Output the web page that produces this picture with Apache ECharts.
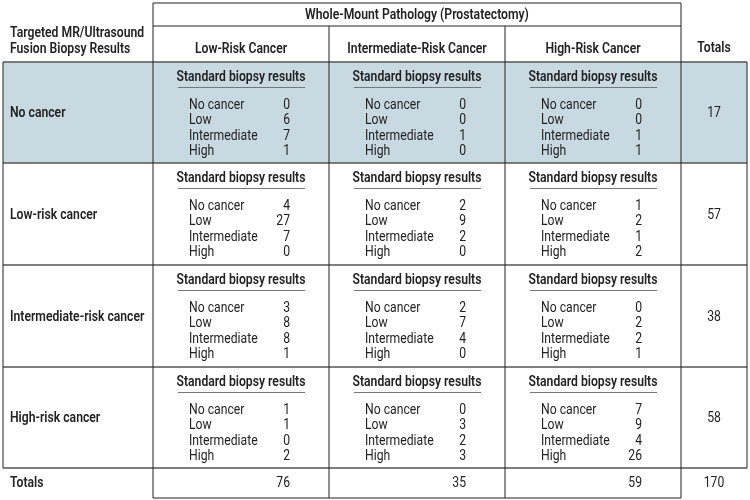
<!DOCTYPE html>
<html><head><meta charset="utf-8">
<script src="https://cdn.jsdelivr.net/npm/echarts@6/dist/echarts.min.js"></script>
<style>html,body{margin:0;padding:0;background:#fff}#c{width:750px;height:500px}</style>
</head><body><div id="c"></div>
<script>
// ---- data ----
const headerTitle = 'Whole-Mount Pathology (Prostatectomy)';
const rowHeaderTitle = ['Targeted MR/Ultrasound', 'Fusion Biopsy Results'];
const pathologyGroups = ['Low-Risk Cancer', 'Intermediate-Risk Cancer', 'High-Risk Cancer'];
const targetedResults = ['No cancer', 'Low-risk cancer', 'Intermediate-risk cancer', 'High-risk cancer'];
const subTableTitle = 'Standard biopsy results';
const standardCategories = ['No cancer', 'Low', 'Intermediate', 'High'];
const totalsLabel = 'Totals';
// counts per pathology group (Low, Intermediate, High) for each targeted result row
const noCancerCounts = [[0, 6, 7, 1], [0, 0, 1, 0], [0, 0, 1, 1]];
const lowRiskCounts = [[4, 27, 7, 0], [2, 9, 2, 0], [1, 2, 1, 2]];
const intermediateRiskCounts = [[3, 8, 8, 1], [2, 7, 4, 0], [0, 2, 2, 1]];
const highRiskCounts = [[1, 1, 0, 2], [0, 3, 2, 3], [7, 9, 4, 26]];
const rowTotals = [17, 57, 38, 58];
const columnTotals = [76, 35, 59];
const grandTotal = 170;

// ---- layout ----
const colEdges = [3, 153, 329, 505, 681, 747];
const rowEdges = [3, 26, 62, 163, 265, 367, 468, 498];
const FONT = "Roboto, 'Noto Sans', sans-serif";
const TXT = '#222';
const SHADE = '#c9d9e1';
const SQUEEZE = 0.87;

const bodyCounts = [noCancerCounts, lowRiskCounts, intermediateRiskCounts, highRiskCounts];

function txt(text, x, y, align, weight, size) {
  return { type: 'text', x: x, y: y, scaleX: SQUEEZE,
    style: { text: String(text), x: 0, y: 0, align: align || 'left', verticalAlign: 'middle',
      fill: TXT, fontFamily: FONT, fontSize: size || 14, fontWeight: weight || 'normal' } };
}

// body cells
const cellData = [];
bodyCounts.forEach((row, r) => row.forEach((vals, c) => cellData.push([r, c])));

function renderCell(params, api) {
  const r = api.value(0), c = api.value(1);
  const vals = bodyCounts[r][c];
  const tl = api.coord([colEdges[1 + c], rowEdges[2 + r]]);
  const br = api.coord([colEdges[2 + c], rowEdges[3 + r]]);
  const cx = (tl[0] + br[0]) / 2, top = tl[1], left = tl[0];
  const children = [];
  children.push(txt(subTableTitle, cx, top + 15, 'center', 600));
  children.push({ type: 'line', shape: { x1: cx - 63, y1: top + 25.5, x2: cx + 64, y2: top + 25.5 }, style: { stroke: '#777', lineWidth: 1 } });
  standardCategories.forEach((lab, i) => {
    const y = top + 43.5 + i * 15.4;
    children.push(txt(lab, left + 36, y, 'left'));
    children.push(txt(vals[i], left + 137, y, 'right'));
  });
  return { type: 'group', children: children };
}

// row/column labels and totals
const labelData = [];
targetedResults.forEach((t, r) => labelData.push(['rowLabel', r]));
rowTotals.forEach((t, r) => labelData.push(['rowTotal', r]));
pathologyGroups.forEach((g, c) => labelData.push(['colHeader', c]));
columnTotals.forEach((t, c) => labelData.push(['colTotal', c]));
labelData.push(['header', 0]);
labelData.push(['grand', 0]);

function renderLabel(params, api) {
  const d = labelData[params.dataIndex];
  const kind = d[0], i = d[1];
  if (kind === 'rowLabel') {
    const p = api.coord([colEdges[0], (rowEdges[2 + i] + rowEdges[3 + i]) / 2]);
    return txt(targetedResults[i], p[0] + 7, p[1] + 1, 'left', 600);
  }
  if (kind === 'rowTotal') {
    const p = api.coord([(colEdges[4] + colEdges[5]) / 2, (rowEdges[2 + i] + rowEdges[3 + i]) / 2]);
    return txt(rowTotals[i], p[0], p[1] + 1, 'center');
  }
  if (kind === 'colHeader') {
    const p = api.coord([(colEdges[1 + i] + colEdges[2 + i]) / 2, rowEdges[2]]);
    return txt(pathologyGroups[i], p[0], p[1] - 13, 'center', 600);
  }
  if (kind === 'colTotal') {
    const p = api.coord([colEdges[1 + i], (rowEdges[6] + rowEdges[7]) / 2]);
    return txt(columnTotals[i], p[0] + 137, p[1], 'right');
  }
  if (kind === 'header') {
    const a = api.coord([(colEdges[1] + colEdges[4]) / 2, (rowEdges[0] + rowEdges[1]) / 2]);
    const b = api.coord([colEdges[0], rowEdges[2]]);
    const e = api.coord([(colEdges[4] + colEdges[5]) / 2, rowEdges[2]]);
    const f = api.coord([colEdges[0], (rowEdges[6] + rowEdges[7]) / 2]);
    return { type: 'group', children: [
      txt(headerTitle, a[0], a[1] + 1, 'center', 600),
      txt(rowHeaderTitle[0], b[0] + 7, b[1] - 29, 'left', 600),
      txt(rowHeaderTitle[1], b[0] + 7, b[1] - 13, 'left', 600),
      txt(totalsLabel, e[0], e[1] - 14, 'center', 600),
      txt(totalsLabel, f[0] + 7, f[1], 'left', 600)
    ] };
  }
  if (kind === 'grand') {
    const p = api.coord([(colEdges[4] + colEdges[5]) / 2, (rowEdges[6] + rowEdges[7]) / 2]);
    return txt(grandTotal, p[0], p[1], 'center');
  }
}

// table rules derived from edges
const L = colEdges, R = rowEdges;
const rules = [
  [L[1], R[0], L[4], R[0], 'thin'], [L[1], R[1], L[4], R[1], 'thin'],
  [L[0], R[2], L[5], R[2], 'row'], [L[0], R[3], L[5], R[3], 'row'],
  [L[0], R[4], L[5], R[4], 'row'], [L[0], R[5], L[5], R[5], 'row'],
  [L[0], R[6], L[5], R[6], 'row'], [L[1], R[7], L[4], R[7], 'thin'],
  [L[0], R[2], L[0], R[6], 'thin'], [L[1], R[0], L[1], R[7], 'thin'],
  [L[2], R[1], L[2], R[7], 'thin'], [L[3], R[1], L[3], R[7], 'thin'],
  [L[4], R[0], L[4], R[7], 'thin'], [L[5], R[2], L[5], R[6], 'thin']
];
function renderRule(params, api) {
  const r = rules[params.dataIndex];
  const a = api.coord([r[0], r[1]]), b = api.coord([r[2], r[3]]);
  const row = r[4] === 'row';
  return { type: 'line', shape: { x1: a[0], y1: a[1], x2: b[0], y2: b[1] },
    style: { stroke: row ? '#555' : '#222', lineWidth: row ? 1.6 : 1 } };
}

function renderShade(params, api) {
  const tl = api.coord([colEdges[0], rowEdges[2]]), br = api.coord([colEdges[5], rowEdges[3]]);
  return { type: 'rect', shape: { x: tl[0], y: tl[1], width: br[0] - tl[0], height: br[1] - tl[1] }, style: { fill: SHADE } };
}

const chart = echarts.init(document.getElementById('c'), null, { renderer: 'canvas' });
chart.setOption({
  animation: false,
  backgroundColor: '#fff',
  grid: { left: 0, right: 0, top: 0, bottom: 0 },
  xAxis: { type: 'value', min: 0, max: 750, show: false },
  yAxis: { type: 'value', min: 0, max: 500, inverse: true, show: false },
  series: [
    { type: 'custom', renderItem: renderShade, data: [[0, 0]], z: 1, silent: true },
    { type: 'custom', renderItem: renderCell, data: cellData, z: 3, silent: true },
    { type: 'custom', renderItem: renderLabel, data: labelData.map((d, i) => [i, 0]), z: 3, silent: true },
    { type: 'custom', renderItem: renderRule, data: rules.map((r, i) => [i, 0]), z: 2, silent: true }
  ]
});
</script></body></html>
